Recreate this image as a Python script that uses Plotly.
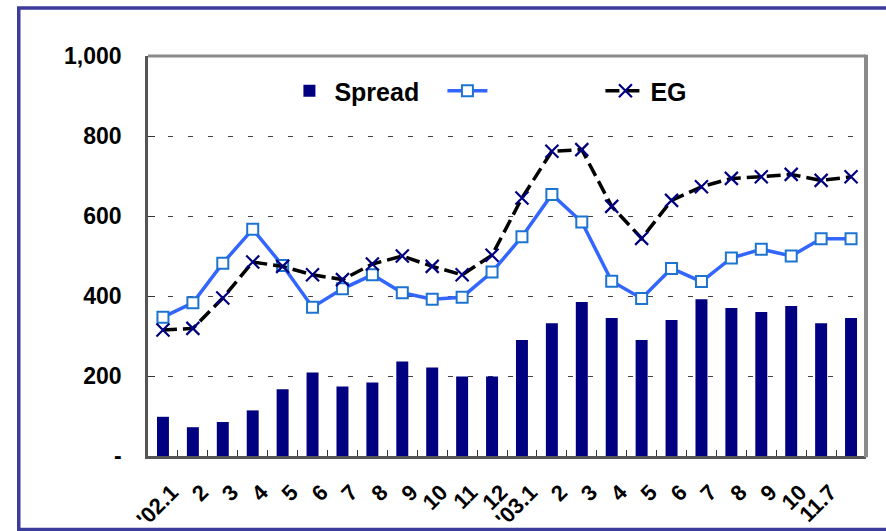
import plotly.graph_objects as go

# ---- data -------------------------------------------------------------
categories = ["2002.01", "2002.02", "2002.03", "2002.04", "2002.05", "2002.06",
              "2002.07", "2002.08", "2002.09", "2002.10", "2002.11", "2002.12",
              "2003.01", "2003.02", "2003.03", "2003.04", "2003.05", "2003.06",
              "2003.07", "2003.08", "2003.09", "2003.10", "2003.11.07", "2003.11.xx"]
tick_labels = ["'02.1", "2", "3", "4", "5", "6", "7", "8", "9", "10", "11", "12",
               "'03.1", "2", "3", "4", "5", "6", "7", "8", "9", "10", "11.7", ""]
spread = [98, 72, 85, 114, 167, 209, 174, 184, 236, 221, 199, 199,
          290, 332, 385, 345, 290, 340, 392, 370, 360, 375, 332, 345]
blue_series = [347, 383, 482, 567, 476, 372, 418, 453, 408, 392, 397, 460,
               548, 654, 585, 437, 394, 469, 436, 495, 517, 500, 543, 543]
eg = [315, 319, 395, 485, 474, 453, 441, 480, 500, 474, 453, 502,
      645, 762, 766, 624, 544, 639, 673, 694, 698, 704, 689, 698]
y_tick_vals = [0, 200, 400, 600, 800, 1000]
y_tick_text = ["-", "200", "400", "600", "800", "1,000"]

FONT = "Liberation Sans, Arial, sans-serif"

fig = go.Figure()
fig.add_trace(go.Bar(x=categories, y=spread, name="Spread",
                     marker=dict(color="#000080", line=dict(width=0))))
fig.add_trace(go.Scatter(x=categories, y=blue_series, name="", mode="lines+markers",
                         line=dict(color="#3366FF", width=3.5),
                         marker=dict(symbol="square", size=11, color="white",
                                     line=dict(color="#1C74D0", width=2))))
fig.add_trace(go.Scatter(x=categories, y=eg, name="EG", mode="lines+markers",
                         line=dict(color="black", width=3.5, dash="14px,6px"),
                         marker=dict(symbol="x-thin", size=13,
                                     line=dict(color="#000080", width=2.2))))

fig.update_layout(
    width=886, height=531,
    margin=dict(l=148, r=20, t=56, b=75),
    paper_bgcolor="white", plot_bgcolor="white",
    bargap=0.6,
    font=dict(family=FONT, size=23, color="black", weight="bold"),
    showlegend=True,
    legend=dict(orientation="h", x=0.19, y=0.97, xanchor="left", yanchor="top",
                bgcolor="rgba(0,0,0,0)", entrywidth=103, entrywidthmode="pixels",
                font=dict(family=FONT, size=25, color="black", weight="bold"),
                itemwidth=40),
    xaxis=dict(type="category", tickvals=categories, ticktext=tick_labels,
               range=[-0.5, len(categories) - 0.5],
               tickangle=-45, tickson="boundaries", ticks="inside", ticklen=6,
               tickcolor="#333", tickwidth=1.2, automargin=False,
               showline=True, linecolor="#555", linewidth=2.5,
               showgrid=False, ticklabelstandoff=12, ticklabelshift=9,
               tickfont=dict(family=FONT, size=22, color="black", weight="bold")),
    yaxis=dict(range=[0, 1000], tickvals=y_tick_vals, ticktext=y_tick_text,
               ticks="inside", ticklen=7, tickcolor="#333", tickwidth=1.2,
               showline=True, linecolor="#555", linewidth=2.5, automargin=False,
               showgrid=True, gridcolor="#444", gridwidth=1.2, griddash="5px,15px",
               zeroline=False, ticklabelstandoff=19,
               tickfont=dict(family=FONT, size=23, color="black", weight="bold")),
    shapes=[
        # plot-area top and right edges (grey shadow frame)
        dict(type="line", xref="paper", yref="paper", x0=0, x1=1.0, y0=1.0, y1=1.0,
             line=dict(color="#8a8a8a", width=3)),
        dict(type="line", xref="paper", yref="paper", x0=1.0, x1=1.0, y0=-0.003, y1=1.003,
             line=dict(color="#8a8a8a", width=4)),
        # outer slide frame
        dict(type="rect", xref="paper", yref="paper", x0=-0.18, x1=1.06, y0=-0.184, y1=1.12,
             line=dict(color="#3C3C9C", width=3.5), layer="above"),
    ],
)

fig.write_html("out.html", config={"responsive": False, "displayModeBar": False},
               post_script="document.body.style.margin='0';document.body.style.overflow='hidden';")
